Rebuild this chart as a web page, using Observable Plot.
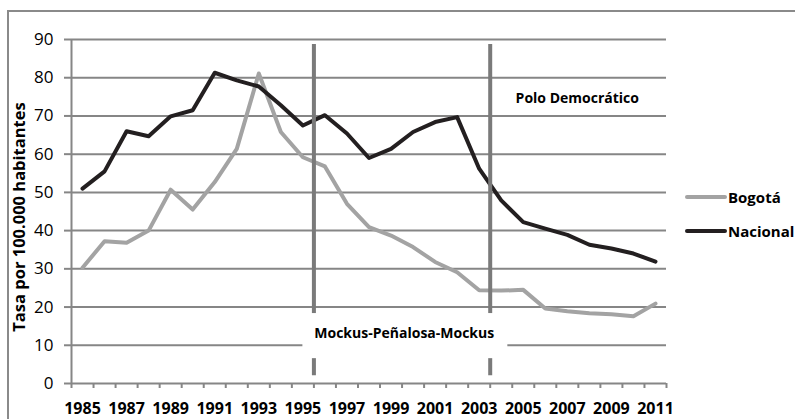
<!DOCTYPE html>
<html><head><meta charset="utf-8">
<script src="https://cdn.jsdelivr.net/npm/d3@7"></script>
<script src="https://cdn.jsdelivr.net/npm/@observablehq/plot@0.6"></script>
<style>
body{margin:0;overflow:hidden;background:#fff;font-family:"Open Sans",sans-serif}
#wrap{position:relative;width:795px;height:419px;overflow:hidden}
#frame{position:absolute;left:7px;top:10px;width:830px;height:450px;border:2px solid #8a8a8a;box-sizing:border-box}
#chart{position:absolute;left:0;top:0}
#ytitle{position:absolute;left:18.5px;top:217px;transform:translate(-50%,-50%) rotate(-90deg);white-space:nowrap;font-weight:bold;font-size:16.5px;color:#000;line-height:1}
.leg{position:absolute;left:685px;display:flex;align-items:center;font-weight:bold;font-size:15px;color:#000;white-space:nowrap}
.leg span.sw{display:inline-block;width:42px;height:4px;border-radius:2px;margin-right:1px}
</style></head>
<body>
<div id="wrap">
  <div id="frame"></div>
  <div id="chart"></div>
  <div id="ytitle"></div>
</div>
<script>
const years = [1985,1986,1987,1988,1989,1990,1991,1992,1993,1994,1995,1996,1997,1998,1999,2000,2001,2002,2003,2004,2005,2006,2007,2008,2009,2010,2011];
const bogota = [30.3,37.2,36.8,40.0,50.7,45.5,52.7,61.4,81.1,65.8,59.2,56.8,47.0,40.9,38.7,35.7,31.8,29.1,24.4,24.3,24.5,19.6,18.9,18.4,18.1,17.6,20.9];
const nacional = [51.0,55.5,66.0,64.7,69.9,71.5,81.3,79.3,77.7,72.8,67.5,70.2,65.4,59.0,61.4,65.8,68.4,69.7,56.2,47.9,42.2,40.5,38.9,36.3,35.3,34.0,31.9];
const seriesNames = ["Bogotá", "Nacional"];
const seriesColors = ["#a3a3a3", "#231f20"];
const yTicks = [0,10,20,30,40,50,60,70,80,90];
const xLabelYears = [1985,1987,1989,1991,1993,1995,1997,1999,2001,2003,2005,2007,2009,2011];
const periodBreaks = [1995.5, 2003.5];
const periodLabels = ["Mockus-Peñalosa-Mockus", "Polo Democrático"];
const periodLabelX = [1999.6, 2007.45];
const periodLabelY = [13.1, 74.6];
const yTitle = "Tasa por 100.000 habitantes";

const gray = "#868686";
const boundaries = years.map(y => y - 0.5).concat([years[years.length-1] + 0.5]);
const rows = [];
years.forEach((y, i) => {
  rows.push({year: y, value: bogota[i], serie: seriesNames[0]});
  rows.push({year: y, value: nacional[i], serie: seriesNames[1]});
});
const labels = periodLabels.map((t, i) => ({t, x: periodLabelX[i], y: periodLabelY[i]}));

const plot = Plot.plot({
  width: 795, height: 419,
  marginLeft: 71, marginRight: 129, marginTop: 39, marginBottom: 36,
  style: {fontFamily: "'Open Sans', sans-serif", color: "#000", background: "transparent", overflow: "visible"},
  x: {type: "linear", domain: [boundaries[0], boundaries[boundaries.length-1]]},
  y: {domain: [0, 90]},
  color: {domain: seriesNames, range: seriesColors},
  marks: [
    Plot.ruleY(yTicks.slice(1), {stroke: gray, strokeWidth: 2}),
    Plot.axisY({ticks: yTicks, tickSize: 7, tickPadding: 11, stroke: gray, strokeWidth: 2, strokeOpacity: 1, fontSize: 17, label: null}),
    Plot.ruleX([boundaries[0]], {y1: 0, y2: 90, stroke: gray, strokeWidth: 2}),
    Plot.ruleY([0], {stroke: gray, strokeWidth: 2}),
    Plot.axisX({ticks: boundaries, tickSize: 5, tickFormat: () => "", stroke: gray, strokeWidth: 2, strokeOpacity: 1, label: null}),
    Plot.axisX({ticks: xLabelYears, tickSize: 0, tickPadding: 19, tickFormat: d => String(d), fontSize: 16, fontWeight: "bold", label: null}),
    Plot.line(rows, {x: "year", y: "value", z: "serie", stroke: "serie", strokeWidth: 4, strokeLinejoin: "round", strokeLinecap: "round"}),
    Plot.ruleX(periodBreaks, {y1: 2, y2: 88.7, stroke: "#7a7a7a", strokeWidth: 4}),
    Plot.rect([labels[0]], {x1: 1995.0, x2: 2004.3, y1: 6.5, y2: 18.3, fill: "#fff"}),
    Plot.text(labels, {x: "x", y: "y", text: "t", fontSize: 14, fontWeight: "bold", fill: "#000"})
  ]
});
document.getElementById("chart").appendChild(plot);
document.getElementById("ytitle").textContent = yTitle;

const wrap = document.getElementById("wrap");
const legY = [198, 232];
seriesNames.forEach((n, i) => {
  const d = document.createElement("div");
  d.className = "leg";
  d.style.top = (legY[i] - 11) + "px";
  d.innerHTML = `<span class="sw" style="background:${seriesColors[i]}"></span>${n}`;
  wrap.appendChild(d);
});
</script>
</body></html>
